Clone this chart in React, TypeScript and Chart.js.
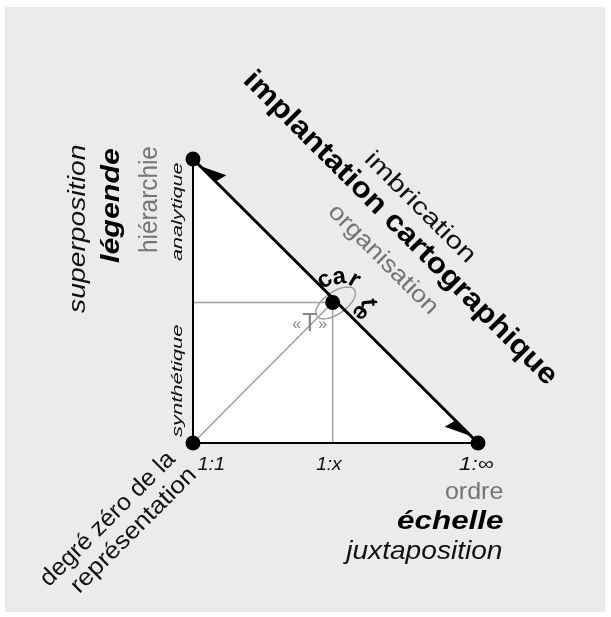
import { useEffect, useRef } from "react";
import { Chart, registerables } from "chart.js";
Chart.register(...registerables);

// ---- data ----
const VERTEX_X = [0, 0, 1]; // analytique (top), degré zéro (origin), 1:∞ (right)
const VERTEX_Y = [1, 0, 0];
const FOCUS_X = [0.49]; // position of "carte"
const FOCUS_Y = [0.495];
const SCALE_TICKS = ["1:1", "1:x", "1:∞"];
const LEFT_AXIS_LABELS = ["analytique", "synthétique"];
const LEFT_TITLES = ["superposition", "légende", "hiérarchie"];
const BOTTOM_TITLES = ["ordre", "échelle", "juxtaposition"];
const DIAG_TITLES = ["imbrication", "implantation cartographique", "organisation"];
const ORIGIN_TITLES = ["degré zéro de la", "représentation"];
const FOCUS_WORD = "carte";
const FOCUS_MARK = ["«", "T", "»"];

const FONT = '"Liberation Sans", Arial, sans-serif';
const BLACK = "#111111";
const GREY_TXT = "#747474";
const GREY_LINE = "#a0a0a0";

function label(
  ctx: CanvasRenderingContext2D,
  text: string,
  cx: number,
  cy: number,
  angleDeg: number,
  font: string,
  color: string,
  len?: number,
  ax: number = 0.5
) {
  ctx.save();
  ctx.font = font;
  ctx.fillStyle = color;
  ctx.textAlign = "left";
  ctx.textBaseline = "alphabetic";
  const m = ctx.measureText(text);
  const inkL = -m.actualBoundingBoxLeft;
  const inkR = m.actualBoundingBoxRight;
  const w = inkR - inkL;
  const sx = len ? len / w : 1;
  ctx.translate(cx, cy);
  ctx.rotate((angleDeg * Math.PI) / 180);
  ctx.scale(sx, 1);
  ctx.fillText(text, -(inkL + ax * w), (m.actualBoundingBoxAscent - m.actualBoundingBoxDescent) / 2);
  ctx.restore();
}

const diagramPlugin = {
  id: "diagram",
  beforeDraw(chart: any) {
    const ctx = chart.ctx as CanvasRenderingContext2D;
    ctx.save();
    ctx.fillStyle = "#ffffff";
    ctx.fillRect(0, 0, chart.width, chart.height);
    ctx.fillStyle = "#ebebeb";
    ctx.fillRect(5, 7, 600, 605);
    ctx.restore();
  },
  beforeDatasetsDraw(chart: any) {
    const ctx = chart.ctx as CanvasRenderingContext2D;
    const xs = chart.scales.x, ys = chart.scales.y;
    ctx.save();
    ctx.fillStyle = "#ffffff";
    ctx.beginPath();
    VERTEX_X.forEach((v, i) => {
      const px = xs.getPixelForValue(v), py = ys.getPixelForValue(VERTEX_Y[i]);
      if (i === 0) ctx.moveTo(px, py);
      else ctx.lineTo(px, py);
    });
    ctx.closePath();
    ctx.fill();
    // ellipse around focus
    const fx = xs.getPixelForValue(FOCUS_X[0]);
    const fy = ys.getPixelForValue(FOCUS_Y[0]);
    ctx.strokeStyle = GREY_LINE;
    ctx.lineWidth = 1.5;
    ctx.beginPath();
    ctx.ellipse(fx + 3, fy + 0.5, 23, 11, (-35 * Math.PI) / 180, 0, Math.PI * 2);
    ctx.stroke();
    ctx.restore();
  },
  afterDatasetsDraw(chart: any) {
    const ctx = chart.ctx as CanvasRenderingContext2D;
    const xs = chart.scales.x, ys = chart.scales.y;
    const x0 = xs.getPixelForValue(0), x1 = xs.getPixelForValue(1);
    const y0 = ys.getPixelForValue(0), y1 = ys.getPixelForValue(1);
    const fx = xs.getPixelForValue(FOCUS_X[0]);
    const fy = ys.getPixelForValue(FOCUS_Y[0]);

    // half arrowheads on hypotenuse
    const tx = xs.getPixelForValue(VERTEX_X[0]), ty = ys.getPixelForValue(VERTEX_Y[0]);
    const rx = xs.getPixelForValue(VERTEX_X[2]), ry = ys.getPixelForValue(VERTEX_Y[2]);
    const L = Math.hypot(rx - tx, ry - ty);
    const dx = (rx - tx) / L, dy = (ry - ty) / L;
    const nx = dy, ny = -dx; // upper-right normal
    ctx.save();
    ctx.fillStyle = "#000";
    let px = tx + dx * 10, py = ty + dy * 10;
    ctx.beginPath();
    ctx.moveTo(px, py);
    ctx.lineTo(px + dx * 25 + nx * 12, py + dy * 25 + ny * 12);
    ctx.lineTo(px + dx * 22, py + dy * 22);
    ctx.closePath();
    ctx.fill();
    px = rx - dx * 10; py = ry - dy * 10;
    ctx.beginPath();
    ctx.moveTo(px, py);
    ctx.lineTo(px - dx * 25 - nx * 12, py - dy * 25 - ny * 12);
    ctx.lineTo(px - dx * 22, py - dy * 22);
    ctx.closePath();
    ctx.fill();
    ctx.restore();

    // left titles (vertical)
    label(ctx, LEFT_TITLES[0], x0 - 115, y1 + 70, -90, `italic 400 24px ${FONT}`, BLACK, 168);
    label(ctx, LEFT_TITLES[1], x0 - 81, y1 + 46.5, -90, `italic 700 25px ${FONT}`, "#000", 115);
    label(ctx, LEFT_TITLES[2], x0 - 46, y1 + 40.5, -90, `400 25px ${FONT}`, GREY_TXT, 105);
    label(ctx, LEFT_AXIS_LABELS[0], x0 - 15, y1 + 53, -90, `italic 400 15px ${FONT}`, BLACK, 98);
    label(ctx, LEFT_AXIS_LABELS[1], x0 - 15, y0 - 62, -90, `italic 400 15px ${FONT}`, BLACK, 112);

    // scale ticks
    const tickFont = `italic 400 19px ${FONT}`;
    label(ctx, SCALE_TICKS[0], x0 + 4.5, y0 + 20.5, 0, tickFont, BLACK, 26, 0);
    label(ctx, SCALE_TICKS[1], fx - 3, y0 + 20.5, 0, tickFont, BLACK, 27);
    label(ctx, SCALE_TICKS[2], x1 - 2, y0 + 20.5, 0, tickFont, BLACK, 34);

    // bottom titles (right aligned)
    label(ctx, BOTTOM_TITLES[0], x1 + 25, y0 + 47, 0, `400 24px ${FONT}`, GREY_TXT, 57, 1);
    label(ctx, BOTTOM_TITLES[1], x1 + 25, y0 + 76, 0, `italic 700 26px ${FONT}`, "#000", 106, 1);
    label(ctx, BOTTOM_TITLES[2], x1 + 24, y0 + 108.5, 0, `italic 400 26px ${FONT}`, BLACK, 159, 1);

    // origin titles
    label(ctx, ORIGIN_TITLES[0], x0 - 84, y0 + 76, -45, `400 24px ${FONT}`, BLACK, 180);
    label(ctx, ORIGIN_TITLES[1], x0 - 59, y0 + 88, -45, `400 24px ${FONT}`, BLACK, 165);

    // diagonal titles
    label(ctx, DIAG_TITLES[0], x0 + 228, y1 + 47, 45, `400 24px ${FONT}`, BLACK, 144);
    label(ctx, DIAG_TITLES[1], x0 + 208, y1 + 70, 45, `700 29px ${FONT}`, "#000", 429);
    label(ctx, DIAG_TITLES[2], x0 + 189.5, y1 + 101, 45, `400 24px ${FONT}`, GREY_TXT, 143);

    // "carte" letters around the focus
    const cf = `700 24px ${FONT}`;
    const offs = [
      [-8, -22, -35],
      [7, -25, -8],
      [22, -22, 30],
      [37, 0, 85],
      [28, 10, 130],
    ];
    FOCUS_WORD.split("").forEach((ch, i) => {
      const o = offs[i];
      label(ctx, ch, fx + o[0], fy + o[1], o[2], cf, "#000");
    });

    // «T»
    label(ctx, FOCUS_MARK[0], fx - 36, fy + 22, 0, `400 16px ${FONT}`, "#888");
    label(ctx, FOCUS_MARK[1], fx - 23, fy + 20, 0, `400 25px ${FONT}`, "#888");
    label(ctx, FOCUS_MARK[2], fx - 10, fy + 22, 0, `400 16px ${FONT}`, "#888");
  },
};

export default function App() {
  const ref = useRef<HTMLCanvasElement | null>(null);
  useEffect(() => {
    if (!ref.current) return;
    const v = VERTEX_X.map((x, i) => ({ x, y: VERTEX_Y[i] }));
    const f = { x: FOCUS_X[0], y: FOCUS_Y[0] };
    const lineDs = (data: any[], color: string, width: number, order: number) => ({
      data,
      showLine: true,
      borderColor: color,
      borderWidth: width,
      pointRadius: 0,
      fill: false,
      clip: false,
      order,
    });
    const chart = new Chart(ref.current, {
      type: "scatter",
      data: {
        datasets: [
          {
            data: [...v, f],
            showLine: false,
            pointRadius: 7.5,
            pointBackgroundColor: "#000",
            pointBorderWidth: 0,
            clip: false,
            order: 0,
          } as any,
          lineDs([v[0], v[2]], "#000", 3, 1),
          lineDs([v[0], v[1], v[2]], "#000", 2, 2),
          lineDs([{ x: 0, y: f.y }, f], GREY_LINE, 1.5, 3),
          lineDs([f, { x: f.x, y: 0 }], GREY_LINE, 1.5, 3),
          lineDs([v[1], f], GREY_LINE, 1.5, 3),
        ],
      },
      options: {
        animation: false,
        responsive: false,
        maintainAspectRatio: false,
        events: [],
        layout: { padding: { left: 193, right: 133, top: 159, bottom: 174 } },
        scales: {
          x: { type: "linear", min: 0, max: 1, display: false },
          y: { type: "linear", min: 0, max: 1, display: false },
        },
        plugins: { legend: { display: false }, tooltip: { enabled: false } },
      },
      plugins: [diagramPlugin],
    });
    return () => chart.destroy();
  }, []);
  return (
    <div style={{ position: "absolute", left: 0, top: 0, width: 611, height: 617, background: "#fff" }}>
      <canvas ref={ref} width={611} height={617} style={{ display: "block" }} />
    </div>
  );
}
